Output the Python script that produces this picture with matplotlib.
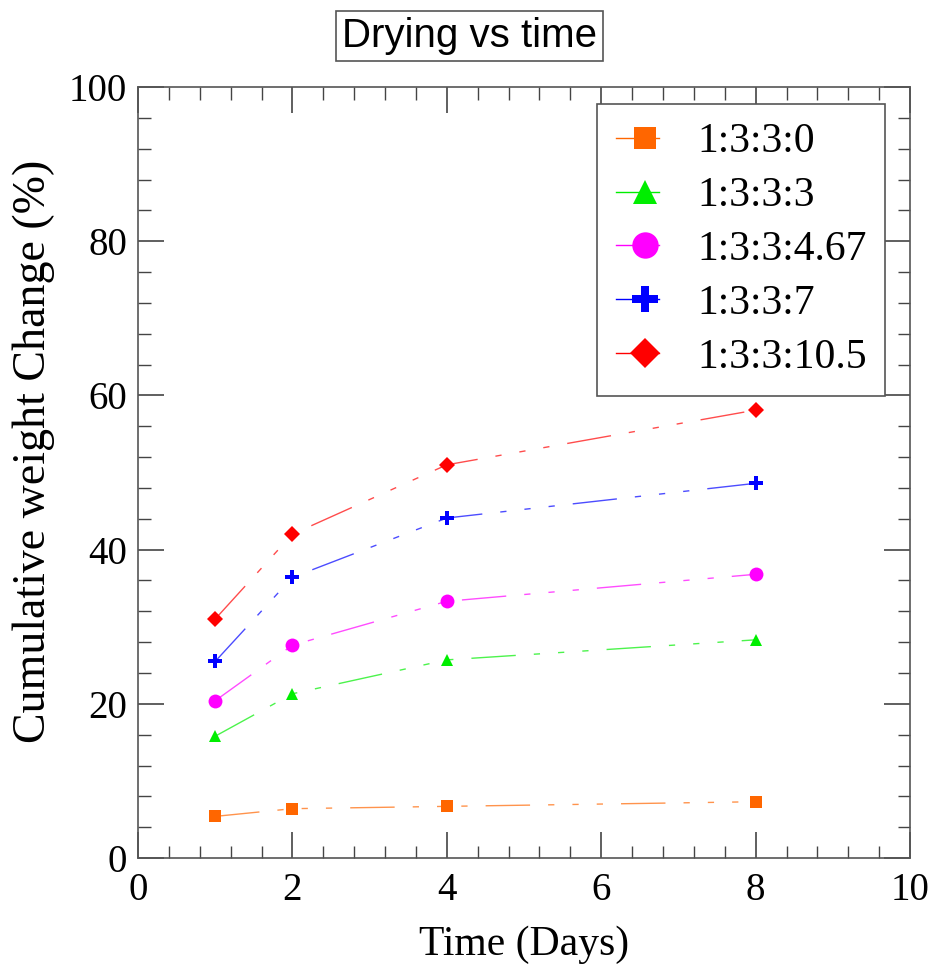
import numpy as np
import matplotlib
matplotlib.use("Agg")
import matplotlib.pyplot as plt
from matplotlib.ticker import MultipleLocator
from matplotlib.legend_handler import HandlerLine2D

days = [1, 2, 4, 8]
labels = ["1:3:3:0", "1:3:3:3", "1:3:3:4.67", "1:3:3:7", "1:3:3:10.5"]
w_0 = [5.4, 6.4, 6.7, 7.3]
w_3 = [15.8, 21.3, 25.7, 28.3]
w_467 = [20.4, 27.6, 33.3, 36.8]
w_7 = [25.5, 36.4, 44.1, 48.6]
w_105 = [31.0, 42.0, 51.0, 58.1]

series = [w_0, w_3, w_467, w_7, w_105]
colores = ["#ff6600", "#00ee00", "#ff00ff", "#0000ff", "#ff0000"]
marcadores = ["s", "^", "o", "P", "D"]
tamanos = [8, 9, 10, 10, 8]

serif = ["Liberation Serif", "DejaVu Serif"]


# marcador de la leyenda desplazado hacia la derecha, como en Origin
class HandlerDesplazado(HandlerLine2D):
    def create_artists(self, legend, orig_handle, xdescent, ydescent,
                       width, height, fontsize, trans):
        arts = super().create_artists(legend, orig_handle, xdescent, ydescent,
                                      width, height, fontsize, trans)
        linea = arts[0]
        xd = np.asarray(linea.get_xdata(), dtype=float)
        if len(xd) == 3:
            xd[1] = xd[0] + 0.68 * (xd[-1] - xd[0])
            linea.set_xdata(xd)
        return arts


fig = plt.figure(figsize=(9.33, 9.67), dpi=100)
ax = fig.add_axes([0.1479, 0.1127, 0.8275, 0.7973])

# trazo largo y tres puntos cortos
estilo = (0, (32, 13, 4.5, 13, 4.5, 13, 4.5, 13))
handles = []
for y, lab, c, m, s in zip(series, labels, colores, marcadores, tamanos):
    ax.plot(days, y, color=c, lw=1.0, alpha=0.7, linestyle=estilo)
    h, = ax.plot([], [], color=c, lw=1.0, marker=m, markersize=s * 1.9,
                 markeredgewidth=0, label=lab)
    handles.append(h)
    ax.plot(days, y, linestyle="none", marker=m, markersize=s, color=c,
            markeredgewidth=0)

ax.set_xlim(0, 10)
ax.set_ylim(0, 100)
ax.xaxis.set_major_locator(MultipleLocator(2))
ax.xaxis.set_minor_locator(MultipleLocator(0.4))
ax.yaxis.set_major_locator(MultipleLocator(20))
ax.yaxis.set_minor_locator(MultipleLocator(4))
ax.tick_params(which="both", direction="in", top=True, right=True, color="#444444")
ax.tick_params(which="major", length=19, width=1.2, labelsize=28)
ax.tick_params(axis="x", which="major", pad=10)
ax.tick_params(axis="y", which="major", pad=8)
ax.tick_params(which="minor", length=9, width=1.0)
for t in ax.get_xticklabels() + ax.get_yticklabels():
    t.set_family(serif)
for sp in ax.spines.values():
    sp.set_color("#555555")
    sp.set_linewidth(1.2)

ax.set_xlabel("Time (Days)", fontsize=30, family=serif, labelpad=12)
ax.set_ylabel("Cumulative weight Change (%)", fontsize=33, family=serif)
ax.yaxis.set_label_coords(-0.107, 0.527)

leg = ax.legend(handles=handles, loc="upper right", bbox_to_anchor=(0.968, 0.978),
                borderaxespad=0, prop={"family": serif, "size": 30},
                handlelength=1.05, handletextpad=0.9, labelspacing=0.37,
                borderpad=0.45, fancybox=False, framealpha=1,
                handler_map={h: HandlerDesplazado(numpoints=1) for h in handles})
leg.get_frame().set_edgecolor("#555555")
leg.get_frame().set_linewidth(1.2)

fig.text(0.503, 0.963, "Drying vs time", fontsize=29, ha="center", va="center",
         family=["Liberation Sans", "DejaVu Sans"],
         bbox=dict(boxstyle="square,pad=0.15", fc="white", ec="#555555", lw=1.2))

fig.savefig("out.png", dpi=100)
